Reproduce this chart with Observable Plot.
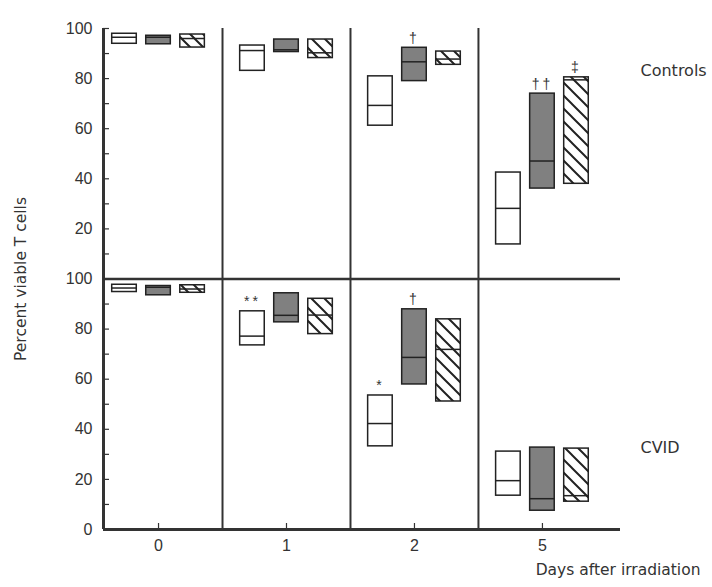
<!DOCTYPE html>
<html>
<head>
<meta charset="utf-8">
<script src="https://cdn.jsdelivr.net/npm/d3@7"></script>
<script src="https://cdn.jsdelivr.net/npm/@observablehq/plot@0.6"></script>
<style>
  body { margin: 0; background: #fff; }
  .stars text { letter-spacing: 3px; }
</style>
</head>
<body>
<div id="chart"></div>
<script>
// ---- data ----
const days = ["0", "1", "2", "5"];
const groups = ["open", "filled", "hatched"];
const panels = ["Controls", "CVID"];

// values per [day][group]: percent viable T cells (low, median, high)
const controlsLow  = [[93.9, 93.7, 92.4], [83.1, 90.6, 88.2], [61.2, 79.0, 85.5], [13.8, 36.1, 38.0]];
const controlsMed  = [[96.5, 96.5, 96.0], [91.2, 91.5, 90.3], [69.3, 86.7, 87.8], [28.2, 47.1, 79.5]];
const controlsHigh = [[97.9, 97.1, 97.6], [93.2, 95.6, 95.6], [80.9, 92.3, 90.8], [42.5, 74.0, 80.5]];
const cvidLow  = [[94.8, 93.5, 94.5], [73.5, 82.7, 78.0], [33.2, 57.9, 51.1], [13.5, 7.5, 11.1]];
const cvidMed  = [[96.4, 96.7, 96.0], [77.2, 85.5, 85.6], [42.3, 68.7, 71.9], [19.5, 12.3, 13.5]];
const cvidHigh = [[97.7, 97.2, 97.5], [87.1, 94.3, 92.1], [53.5, 87.9, 83.9], [31.1, 32.7, 32.3]];

const annPanel  = ["Controls", "Controls", "Controls", "CVID", "CVID", "CVID"];
const annDay    = ["2", "5", "5", "1", "2", "2"];
const annGroup  = ["filled", "filled", "hatched", "open", "open", "filled"];
const annSymbol = ["†", "††", "‡", "**", "*", "†"];

const yTicks = [0, 20, 40, 60, 80, 100, 120, 140, 160, 180, 200];
const yMinorTicks = [10, 30, 50, 70, 90, 110, 130, 150, 170, 190];
const yTickLabels = ["0", "20", "40", "60", "80", "100", "20", "40", "60", "80", "100"];

// ---- layout helpers ----
const W = 712, H = 587;
const mL = 103, mR = 92, mT = 28, mB = 58;
const plotW = W - mL - mR, plotH = H - mT - mB;
const groupStep = 0.266, halfW = 0.096;
const panelBase = {Controls: 100, CVID: 0};

const rows = [];
panels.forEach(p => {
  const L = p === "Controls" ? controlsLow : cvidLow;
  const M = p === "Controls" ? controlsMed : cvidMed;
  const Hh = p === "Controls" ? controlsHigh : cvidHigh;
  days.forEach((d, di) => groups.forEach((g, gi) => {
    rows.push({
      panel: p, day: d, group: g,
      x: di + (gi - 1) * groupStep,
      low: L[di][gi] + panelBase[p],
      med: M[di][gi] + panelBase[p],
      high: Hh[di][gi] + panelBase[p]
    });
  }));
});
const ann = annSymbol.map((s, i) => {
  const r = rows.find(r => r.panel === annPanel[i] && r.day === annDay[i] && r.group === annGroup[i]);
  return {symbol: s, x: r.x, y: r.high};
});
const line = "#333";
const boxStroke = "#222";
const boxOpts = (g) => ({
  filter: d => d.group === g,
  x1: d => d.x - halfW, x2: d => d.x + halfW, y1: "low", y2: "high",
  stroke: boxStroke, strokeWidth: 1.5
});
const medOpts = {x1: d => d.x - halfW, x2: d => d.x + halfW, y: "med", stroke: boxStroke, strokeWidth: 1.5};

const chart = Plot.plot({
  width: W, height: H,
  marginLeft: mL, marginRight: mR, marginTop: mT, marginBottom: mB,
  x: {domain: [-0.43, 3.61], label: null},
  y: {domain: [0, 200], label: null},
  style: {fontFamily: "Liberation Sans, Arial, sans-serif", fontSize: "16px", color: "#333", background: "#fff", overflow: "visible"},
  marks: [
    // boxes
    Plot.rect(rows, {...boxOpts("open"), fill: "white"}),
    Plot.rect(rows, {...boxOpts("filled"), fill: "#808080"}),
    Plot.rect(rows, {...boxOpts("hatched"), fill: "url(#hatch)"}),
    Plot.ruleY(rows, medOpts),
    // frame
    Plot.ruleX([0.5, 1.5, 2.5], {y1: 0, y2: 200, stroke: line, strokeWidth: 2}),
    Plot.ruleY([100], {stroke: line, strokeWidth: 2.5}),
    Plot.ruleY([0], {stroke: line, strokeWidth: 3}),
    Plot.ruleX([-0.43], {y1: 0, y2: 200, stroke: line, strokeWidth: 3}),
    // inward ticks
    Plot.tickY(yTicks.concat(yMinorTicks), {stroke: line, strokeWidth: 1.2, insetRight: plotW - 6}),
    Plot.tickX([0, 1, 2, 3], {stroke: line, strokeWidth: 1.2, insetTop: plotH - 6}),
    // axis labels
    Plot.axisY(yTicks, {tickSize: 0, tickPadding: 11, label: null, tickFormat: d => yTickLabels[yTicks.indexOf(d)], fontSize: 16, fill: "#333"}),
    Plot.axisX([0, 1, 2, 3], {tickSize: 0, tickPadding: 10, label: null, tickFormat: i => days[i], fontSize: 16, fill: "#333"}),
    // significance marks
    Plot.text(ann, {x: "x", y: "y", text: "symbol", lineAnchor: "bottom", dy: -5, fontSize: 14, fill: "#333", className: "stars"}),
    // titles
    Plot.text(["Percent viable T cells"], {frameAnchor: "left", y: 100, dx: -82, rotate: -90, textAnchor: "middle", fontSize: 15.5, fontFamily: "DejaVu Sans", fill: "#333"}),
    Plot.text(["Controls"], {frameAnchor: "right", y: 183, dx: 20, textAnchor: "start", fontSize: 16, fontFamily: "DejaVu Sans", fill: "#333"}),
    Plot.text(["CVID"], {frameAnchor: "right", y: 32.4, dx: 20, textAnchor: "start", fontSize: 16, fontFamily: "DejaVu Sans", fill: "#333"}),
    Plot.text(["Days after irradiation"], {frameAnchor: "bottom-right", dx: 80, dy: 41, textAnchor: "end", lineAnchor: "middle", fontSize: 15.5, fontFamily: "DejaVu Sans", fill: "#333"})
  ]
});

d3.select(chart).insert("defs", ":first-child").html(
  '<pattern id="hatch" patternUnits="userSpaceOnUse" width="13" height="13">' +
  '<path d="M0,0L13,13M-1,12L1,14M12,-1L14,1" stroke="#222" stroke-width="2" fill="none"/>' +
  '</pattern>'
);
document.getElementById("chart").appendChild(chart);
</script>
</body>
</html>
